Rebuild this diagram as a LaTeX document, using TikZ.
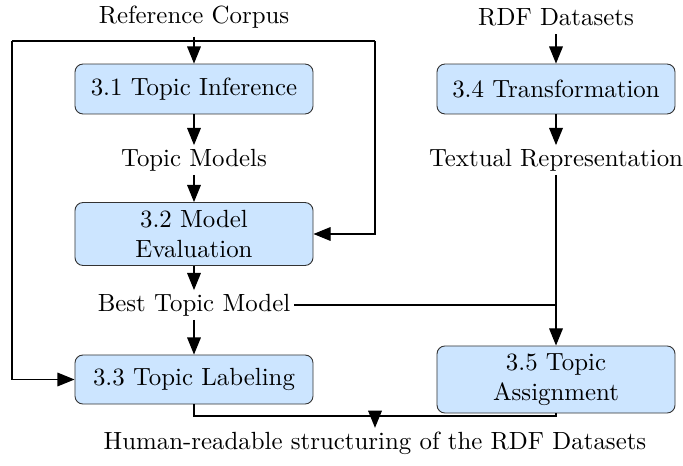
\documentclass[tikz,border=0pt]{standalone}
\usetikzlibrary{arrows.meta}
\definecolor{boxfill}{HTML}{CCE5FF}
\begin{document}
\begin{tikzpicture}[x=0.4386pt,y=-0.4386pt,
  every node/.style={font=\fontsize{10.9}{13.2}\selectfont},
  proc/.style={draw=black!80, fill=boxfill, rounded corners=3.5pt, minimum width=104.4pt, align=center, inner sep=2pt, text width=100pt},
  lbl/.style={inner sep=1.5pt},
  arr/.style={-{Triangle[length=7.5pt,width=6pt]}, draw=black, line width=0.5pt},
  ln/.style={draw=black, line width=0.5pt}]
\useasboundingbox (0,0) rectangle (683,466);
\node[lbl] (rc) at (194,17) {Reference Corpus};
\node[proc, minimum height=21.9pt] (p1) at (194,89) {3.1 Topic Inference};
\node[lbl] (tm) at (194,160) {Topic Models};
\node[proc, minimum height=27.6pt] (p2) at (194,234) {3.2 Model\\Evaluation};
\node[lbl] (bt) at (194,305) {Best Topic Model};
\node[proc, minimum height=21.5pt] (p3) at (194,379.5) {3.3 Topic Labeling};
\node[lbl] (rdf) at (556,17) {RDF Datasets};
\node[proc, minimum height=21.9pt] (p4) at (556,89) {3.4 Transformation};
\node[lbl] (txt) at (556,160) {Textual Representation};
\node[proc, minimum height=29.4pt] (p5) at (556,379.5) {3.5 Topic\\Assignment};
\node[lbl] (hr) at (375,443) {Human-readable structuring of the RDF Datasets};
\coordinate (topleft) at (12,41);
\coordinate (topright) at (375,41);
\coordinate (bm) at (375,416);
% left column
\draw[arr, shorten <=2pt] (rc) -- (p1);
\draw[ln] (topleft) -- (topright);
\draw[arr] (topright) |- (p2.east);
\draw[arr] (topleft) |- (p3.west);
\draw[arr] (p1) -- (tm);
\draw[arr] (tm) -- (p2);
\draw[arr] (p2) -- (bt);
\draw[arr] (bt) -- (p3);
% right column
\draw[arr, shorten <=2pt] (rdf) -- (p4);
\draw[arr] (p4) -- (txt);
\draw[arr] (txt) -- (p5);
\draw[ln] (bt) -- (bt -| txt);
% bottom
\draw[ln] (p3.south) -- (p3.south |- bm) -- (p5.south |- bm) -- (p5.south);
\draw[arr] (bm) -- (hr);
\end{tikzpicture}
\end{document}
